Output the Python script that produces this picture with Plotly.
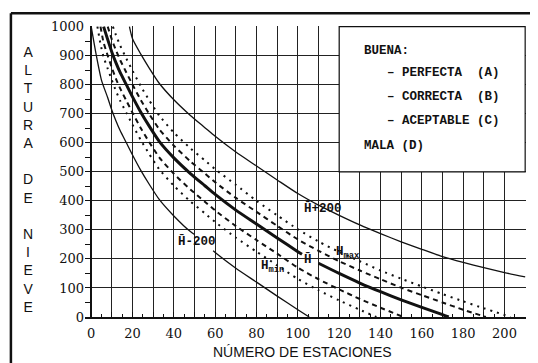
import plotly.graph_objects as go

# ---------------- data ----------------
# mean curve  H̄  (thick solid) – gap where its label sits
mean_x = [6, 8, 10, 12, 14, 17, 20, 24, 28, 33, 40, 48, 55, 60, 70, 80, 90, 100, 102,
          None, 110, 120, 130, 140, 150, 160, 170, 173]
mean_y = [1000, 955, 912, 875, 842, 800, 758, 705, 658, 604, 548, 494, 452, 422, 368, 320, 272, 225, 216,
          None, 185, 150, 117, 87, 59, 33, 8, 0]

# H̄ - 200 (thin solid) – gap for its label
lo200_x = [0, 2.5, 5, 8, 10, 12, 14, 17, 20, 24, 28, 33, 40, 48, 50,
           None, 59, 60, 70, 80, 90, 100, 105.5]
lo200_y = [1000, 900, 815, 755, 712, 675, 642, 600, 558, 505, 458, 404, 348, 294, 284,
           None, 228, 222, 168, 120, 72, 25, 0]

# H̄ + 200 (thin solid)
hi200_x = [18.5, 20, 24, 28, 33, 40, 48, 55, 60, 70, 80, 90, 100, 110, 120, 130, 140,
           150, 160, 170, 180, 190, 200, 210]
hi200_y = [1000, 958, 905, 858, 804, 748, 694, 652, 622, 568, 520, 472, 425, 385, 350, 317, 287,
           259, 233, 208, 188, 170, 153, 138]

# H max (dashed, upper)
hmax_x = [8, 10, 12, 14, 17, 20, 24, 28, 33, 40, 48, 55, 60, 70, 80, 90, 100, 110, 120,
          130, 140, 150, 160, 170, 180, 191]
hmax_y = [1000, 955, 918, 885, 842, 800, 747, 700, 646, 590, 536, 494, 464, 410, 362, 314, 267, 228, 192,
          160, 130, 101, 75, 50, 25, 0]

# H min (dashed, lower)
hmin_x = [4.5, 6, 8, 10, 12, 14, 17, 20, 24, 28, 33, 40, 48, 55, 60, 70, 80, 90, 100,
          110, 120, 130, 140, 151]
hmin_y = [1000, 945, 900, 858, 820, 787, 745, 703, 650, 603, 549, 493, 439, 397, 367, 313, 265, 218, 170,
          130, 95, 62, 32, 0]

# upper dotted band
dup_x = [10.5, 12, 14, 17, 20, 24, 28, 33, 40, 48, 55, 60, 70, 80, 90, 100, 110, 120,
         130, 140, 150, 160, 170, 180, 190, 203]
dup_y = [1000, 970, 935, 890, 848, 795, 747, 693, 635, 581, 539, 509, 455, 400, 350, 302, 260, 224,
         192, 160, 132, 105, 79, 54, 30, 0]

# lower dotted band
dlo_x = [3, 4.5, 6, 8, 10, 12, 14, 17, 20, 24, 28, 33, 40, 48, 55, 60, 70, 80, 90, 100,
         110, 120, 130, 138]
dlo_y = [1000, 940, 895, 855, 815, 778, 745, 703, 662, 609, 562, 508, 452, 398, 357, 327, 273, 225, 178, 131,
         92, 57, 25, 0]

x_tickvals = list(range(0, 211, 10))
x_ticktext = [str(v) if v % 20 == 0 else " " for v in x_tickvals]
y_tickvals = list(range(0, 1001, 100))
y_ticktext = [str(v) for v in y_tickvals]

legend_lines = ["BUENA:", "– PERFECTA  (A)", "– CORRECTA  (B)", "– ACEPTABLE (C)", "MALA (D)"]
legend_x = [131, 142, 142, 142, 131]
legend_y = [917, 840, 757, 675, 589]

curve_labels = ["H\u0304-200", "H\u0304", "H\u0304+200", "H<sub>max</sub>", "H<sub>min</sub>"]
curve_label_x = [51, 105, 112.3, 117.5, 81.4]
curve_label_y = [261, 199, 374, 222, 172]
curve_label_anchor = ["center", "center", "center", "left", "left"]

# ---------------- figure ----------------
INK = "#111111"
fig = go.Figure()

def add(x, y, width, dash="solid"):
    fig.add_trace(go.Scatter(x=x, y=y, mode="lines", connectgaps=False,
                             line=dict(color=INK, width=width, dash=dash, shape="spline", smoothing=0.6),
                             hoverinfo="skip", showlegend=False))

add(lo200_x, lo200_y, 1.3)
add(hi200_x, hi200_y, 1.3)
add(dlo_x, dlo_y, 2, "2px,5px")
add(dup_x, dup_y, 2, "2px,5px")
add(hmin_x, hmin_y, 2, "5px,4px")
add(hmax_x, hmax_y, 2, "5px,4px")
add(mean_x, mean_y, 3)

MONO = "Liberation Mono"
ann = []
for t, x, y in zip(legend_lines, legend_x, legend_y):
    ann.append(dict(x=x, y=y, xref="x", yref="y", text=f"<b>{t}</b>", showarrow=False,
                    xanchor="left", yanchor="middle",
                    font=dict(family=MONO, size=12.5, color=INK)))
for t, x, y, a in zip(curve_labels, curve_label_x, curve_label_y, curve_label_anchor):
    ann.append(dict(x=x, y=y, xref="x", yref="y", text=f"<b>{t}</b>", showarrow=False,
                    xanchor=a, yanchor="middle",
                    font=dict(family=MONO, size=12.5, color=INK)))

# axis titles
ann.append(dict(x=0.494, y=-0.12, xref="paper", yref="paper", text="NÚMERO DE ESTACIONES",
                showarrow=False, xanchor="center", yanchor="middle",
                font=dict(family="Liberation Sans", size=14, color=INK)))
ann.append(dict(x=-0.129, y=0.474, xref="paper", yref="paper",
                text="A<br>L<br>T<br>U<br>R<br>A<br><br>D<br>E<br><br>N<br>I<br>E<br>V<br>E",
                showarrow=False, xanchor="center", yanchor="middle", align="center",
                font=dict(family="Liberation Sans", size=14, color=INK)))

# outer frame (paper coords relative to the 441x291 plot area at 77,18)
FL, FR, FT, FB = -0.168, 1.018, 1.044, -0.2
shapes = [
    dict(type="rect", xref="x", yref="y", x0=120, x1=210, y0=500, y1=1000,
         fillcolor="white", line=dict(color=INK, width=1.2), layer="above"),
    dict(type="line", xref="paper", yref="paper", x0=FL, x1=FL, y0=FB, y1=FT,
         line=dict(color=INK, width=2.5), layer="above"),
    dict(type="line", xref="paper", yref="paper", x0=FL, x1=FR, y0=FT, y1=FT,
         line=dict(color=INK, width=2.5), layer="above"),
    dict(type="line", xref="paper", yref="paper", x0=FR, x1=FR, y0=FB, y1=FT,
         line=dict(color=INK, width=2.5), layer="above"),
]

# the page body adds an 8px offset, so the figure is 8px smaller and shifted
fig.update_layout(
    width=530, height=355,
    margin=dict(l=77, r=12, t=18, b=46),
    paper_bgcolor="white", plot_bgcolor="white",
    showlegend=False,
    annotations=ann, shapes=shapes,
    xaxis=dict(range=[-3, 210.4], tickmode="array", tickvals=x_tickvals, ticktext=x_ticktext,
               showgrid=True, gridcolor="#222222", gridwidth=1.2,
               zeroline=True, zerolinecolor=INK, zerolinewidth=1.5,
               showline=True, linecolor=INK, linewidth=1.5,
               ticks="inside", ticklen=5, tickcolor=INK, ticklabelstandoff=4,
               minor=dict(tickmode="linear", tick0=0, dtick=5, ticks="inside", ticklen=3,
                          tickcolor=INK, showgrid=False),
               tickfont=dict(family="DejaVu Serif", size=13, color=INK)),
    yaxis=dict(range=[0, 1002], tickmode="array", tickvals=y_tickvals, ticktext=y_ticktext,
               showgrid=True, gridcolor="#222222", gridwidth=1.2,
               zeroline=False, showline=False,
               ticks="inside", ticklen=0, tickcolor=INK,
               minor=dict(tickmode="linear", tick0=0, dtick=50, ticks="inside", ticklen=5,
                          tickcolor=INK, showgrid=False),
               tickfont=dict(family="DejaVu Serif", size=13, color=INK)),
)

fig.write_html("out.html")
